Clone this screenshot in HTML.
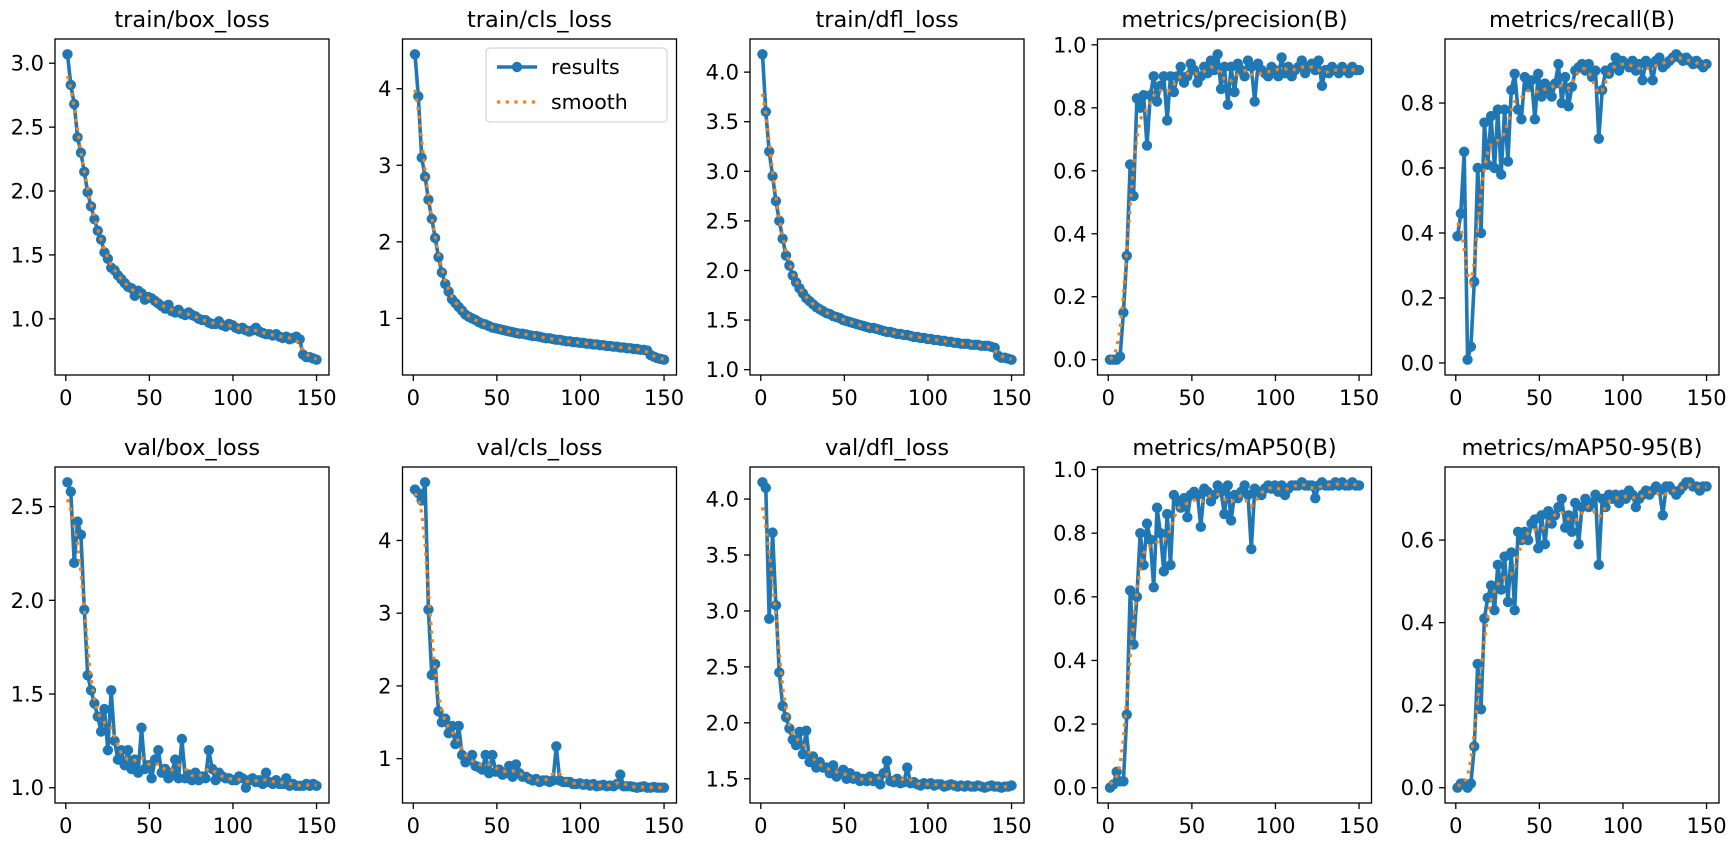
<!DOCTYPE html>
<html><head><meta charset="utf-8"><style>
html,body{margin:0;padding:0;background:#fff}
svg{display:block;font-family:"DejaVu Sans","Liberation Sans",sans-serif}
</style></head><body>
<svg id="fig" width="1735" height="850" viewBox="0 0 1735 850"></svg>
<script>
const titles=["train/box_loss","train/cls_loss","train/dfl_loss","metrics/precision(B)","metrics/recall(B)","val/box_loss","val/cls_loss","val/dfl_loss","metrics/mAP50(B)","metrics/mAP50-95(B)"];
const xTicks=[0,50,100,150];
const trainBox=[3.07,2.83,2.68,2.42,2.30,2.15,1.99,1.88,1.78,1.69,1.62,1.52,1.47,1.40,1.38,1.34,1.31,1.28,1.25,1.24,1.18,1.22,1.20,1.15,1.17,1.16,1.14,1.12,1.10,1.08,1.11,1.06,1.05,1.07,1.04,1.03,1.05,1.03,1.02,1.00,0.99,0.99,0.97,0.96,0.96,0.98,0.95,0.94,0.96,0.95,0.93,0.92,0.93,0.91,0.90,0.91,0.93,0.90,0.89,0.88,0.88,0.87,0.88,0.86,0.85,0.86,0.84,0.85,0.86,0.84,0.72,0.70,0.70,0.69,0.68];
const trainCls=[4.45,3.9,3.1,2.85,2.55,2.3,2.05,1.8,1.6,1.45,1.35,1.25,1.2,1.15,1.1,1.05,1.02,1.0,0.98,0.95,0.93,0.92,0.9,0.88,0.87,0.86,0.85,0.84,0.83,0.82,0.81,0.8,0.8,0.79,0.78,0.77,0.77,0.76,0.75,0.74,0.74,0.73,0.72,0.72,0.71,0.7,0.7,0.69,0.69,0.68,0.68,0.67,0.67,0.66,0.66,0.65,0.65,0.64,0.64,0.63,0.63,0.62,0.62,0.61,0.61,0.6,0.6,0.59,0.59,0.58,0.52,0.5,0.48,0.47,0.46];
const trainDfl=[4.18,3.6,3.2,2.95,2.7,2.5,2.32,2.15,2.05,1.95,1.88,1.82,1.77,1.72,1.69,1.66,1.63,1.61,1.59,1.57,1.56,1.54,1.53,1.52,1.5,1.49,1.48,1.47,1.46,1.45,1.44,1.43,1.42,1.42,1.41,1.4,1.39,1.38,1.38,1.37,1.36,1.36,1.35,1.35,1.34,1.33,1.33,1.32,1.32,1.31,1.31,1.3,1.3,1.29,1.29,1.28,1.28,1.27,1.27,1.26,1.26,1.26,1.25,1.25,1.25,1.24,1.24,1.24,1.23,1.22,1.14,1.12,1.12,1.11,1.1];
const precision=[0,0,0,0.01,0.15,0.33,0.62,0.52,0.83,0.8,0.84,0.68,0.84,0.9,0.82,0.87,0.9,0.76,0.9,0.85,0.9,0.93,0.88,0.9,0.94,0.92,0.88,0.9,0.93,0.91,0.95,0.92,0.97,0.86,0.93,0.81,0.93,0.85,0.94,0.92,0.9,0.95,0.93,0.82,0.94,0.92,0.91,0.9,0.93,0.92,0.9,0.96,0.91,0.93,0.9,0.92,0.93,0.95,0.91,0.93,0.94,0.92,0.95,0.87,0.92,0.91,0.93,0.92,0.91,0.93,0.92,0.91,0.93,0.92,0.92];
const recall=[0.39,0.46,0.65,0.01,0.05,0.25,0.6,0.4,0.74,0.61,0.76,0.6,0.78,0.58,0.78,0.62,0.84,0.89,0.78,0.75,0.88,0.85,0.87,0.75,0.89,0.82,0.86,0.84,0.82,0.86,0.92,0.8,0.88,0.79,0.85,0.9,0.91,0.92,0.9,0.92,0.88,0.9,0.69,0.84,0.9,0.89,0.91,0.94,0.9,0.93,0.92,0.91,0.93,0.9,0.92,0.87,0.93,0.92,0.87,0.93,0.94,0.91,0.92,0.93,0.94,0.95,0.94,0.93,0.94,0.93,0.92,0.93,0.92,0.91,0.92];
const valBox=[2.63,2.58,2.2,2.42,2.35,1.95,1.6,1.52,1.45,1.38,1.3,1.42,1.2,1.52,1.25,1.15,1.2,1.12,1.2,1.1,1.15,1.08,1.32,1.1,1.12,1.05,1.15,1.2,1.08,1.1,1.05,1.08,1.15,1.05,1.26,1.05,1.07,1.04,1.08,1.04,1.06,1.05,1.2,1.1,1.04,1.08,1.06,1.05,1.05,1.04,1.04,1.06,1.05,1.0,1.04,1.05,1.03,1.04,1.02,1.08,1.03,1.02,1.04,1.02,1.02,1.05,1.01,1.02,1.01,1.01,1.01,1.02,1.01,1.02,1.01];
const valCls=[4.7,4.65,4.55,4.8,3.05,2.15,2.3,1.65,1.5,1.55,1.35,1.45,1.2,1.45,1.05,0.95,0.98,1.05,0.9,0.88,0.85,1.05,0.8,1.05,0.82,0.85,0.78,0.8,0.9,0.75,0.92,0.8,0.75,0.75,0.72,0.7,0.72,0.68,0.7,0.7,0.68,0.7,1.17,0.7,0.68,0.68,0.68,0.65,0.65,0.66,0.64,0.65,0.63,0.65,0.62,0.63,0.64,0.62,0.63,0.62,0.65,0.78,0.62,0.62,0.62,0.61,0.6,0.61,0.62,0.6,0.6,0.61,0.6,0.6,0.6];
const valDfl=[4.15,4.1,2.93,3.7,3.05,2.45,2.15,2.05,1.95,1.85,1.8,1.92,1.72,1.93,1.65,1.7,1.6,1.65,1.6,1.6,1.55,1.62,1.52,1.55,1.58,1.5,1.55,1.5,1.52,1.48,1.5,1.48,1.52,1.48,1.5,1.45,1.55,1.66,1.48,1.47,1.5,1.46,1.47,1.6,1.46,1.47,1.45,1.44,1.46,1.45,1.46,1.44,1.45,1.45,1.43,1.44,1.45,1.44,1.43,1.44,1.43,1.44,1.43,1.43,1.44,1.43,1.42,1.43,1.44,1.43,1.43,1.42,1.43,1.43,1.44];
const map50=[0,0.01,0.05,0.02,0.02,0.23,0.62,0.45,0.6,0.8,0.7,0.83,0.78,0.63,0.88,0.8,0.68,0.86,0.7,0.92,0.9,0.88,0.91,0.85,0.92,0.93,0.92,0.82,0.94,0.93,0.9,0.92,0.95,0.93,0.86,0.95,0.84,0.92,0.91,0.93,0.95,0.92,0.75,0.94,0.93,0.92,0.94,0.95,0.94,0.95,0.93,0.95,0.92,0.94,0.95,0.95,0.95,0.96,0.95,0.95,0.95,0.91,0.95,0.96,0.95,0.95,0.95,0.96,0.95,0.96,0.95,0.95,0.96,0.95,0.95];
const map5095=[0,0.01,0.01,0.0,0.01,0.1,0.3,0.19,0.41,0.46,0.49,0.43,0.54,0.48,0.56,0.45,0.57,0.43,0.62,0.6,0.62,0.6,0.64,0.65,0.58,0.66,0.59,0.67,0.64,0.66,0.68,0.7,0.63,0.66,0.62,0.69,0.59,0.68,0.7,0.68,0.69,0.71,0.54,0.7,0.68,0.71,0.7,0.71,0.69,0.71,0.7,0.72,0.71,0.68,0.7,0.71,0.72,0.71,0.72,0.73,0.72,0.66,0.73,0.73,0.72,0.71,0.72,0.73,0.74,0.74,0.73,0.73,0.72,0.73,0.73];
const yTicks=[[1.0,1.5,2.0,2.5,3.0],[1,2,3,4],[1.0,1.5,2.0,2.5,3.0,3.5,4.0],[0,0.2,0.4,0.6,0.8,1.0],[0,0.2,0.4,0.6,0.8],[1.0,1.5,2.0,2.5],[1,2,3,4],[1.5,2.0,2.5,3.0,3.5,4.0],[0,0.2,0.4,0.6,0.8,1.0],[0,0.2,0.4,0.6]];
const yDecimals=[1,0,1,1,1,1,0,1,1,1];
const series=[trainBox,trainCls,trainDfl,precision,recall,valBox,valCls,valDfl,map50,map5095];
const names=["train-box-loss","train-cls-loss","train-dfl-loss","precision","recall","val-box-loss","val-cls-loss","val-dfl-loss","map50","map50-95"];

const NS="http://www.w3.org/2000/svg";
const svg=document.getElementById('fig');
function mk(tag,attrs,parent){const e=document.createElementNS(NS,tag);for(const k in attrs)e.setAttribute(k,attrs[k]);(parent||svg).appendChild(e);return e;}
function smooth(y,sigma){const r=Math.ceil(4*sigma),n=y.length,out=[];
  for(let i=0;i<n;i++){let s=0,w=0;for(let k=-r;k<=r;k++){let j=i+k;if(j<0)j=-j-1;if(j>=n)j=2*n-j-1;j=Math.max(0,Math.min(n-1,j));const g=Math.exp(-k*k/(2*sigma*sigma));s+=g*y[j];w+=g;}out.push(s/w);}return out;}
const AW=274,AH=336,blue="#1f77b4",orange="#ff7f0e";
series.forEach((y,p)=>{
  const col=p%5,row=Math.floor(p/5);
  const L=55+col*347.5,T=row?467:39;
  const n=y.length;
  const xs=y.map((_,i)=>1+i*149/(n-1));
  const sm=smooth(y,1.5);
  const all=y.concat(sm);let mn=Math.min(...all),mx=Math.max(...all);const pad=(mx-mn)*0.05;mn-=pad;mx+=pad;
  const x0=1-149*0.05,x1=150+149*0.05;
  const X=v=>L+(v-x0)/(x1-x0)*AW, Y=v=>T+AH-(v-mn)/(mx-mn)*AH;
  const g=mk('g',{});
  
  
  const t=mk('text',{x:L+AW/2,y:T-12,'text-anchor':'middle','font-size':'22.5',fill:'#000'},g);t.textContent=titles[p];
  
  xTicks.forEach(v=>{const x=X(v);mk('line',{x1:x,x2:x,y1:T+AH,y2:T+AH+6,stroke:'#000','stroke-width':1.3},g);
    const tx=mk('text',{x:x,y:T+AH+30,'text-anchor':'middle','font-size':'21',fill:'#000'},g);tx.textContent=v;
    });
  yTicks[p].forEach(v=>{if(v<mn||v>mx)return;const yy=Y(v);mk('line',{x1:L-6,x2:L,y1:yy,y2:yy,stroke:'#000','stroke-width':1.3},g);
    const tx=mk('text',{x:L-11,y:yy+7.5,'text-anchor':'end','font-size':'21',fill:'#000'},g);tx.textContent=v.toFixed(yDecimals[p]);
    });
  const clipId='c'+p;const cp=mk('clipPath',{id:clipId},g);mk('rect',{x:L,y:T,width:AW,height:AH},cp);
  const pg=mk('g',{'clip-path':'url(#'+clipId+')'},g);
  const pts=xs.map((x,i)=>X(x).toFixed(1)+','+Y(y[i]).toFixed(1)).join(' ');
  const line=mk('polyline',{points:pts,fill:'none',stroke:blue,'stroke-width':3.6,'stroke-linejoin':'round'},pg);
  
  xs.forEach((x,i)=>{const c=mk('circle',{cx:X(x),cy:Y(y[i]),r:5.2,fill:blue},pg);
    });
  const sp=xs.map((x,i)=>X(x).toFixed(1)+','+Y(sm[i]).toFixed(1)).join(' ');
  const sl=mk('polyline',{points:sp,fill:'none',stroke:orange,'stroke-width':3.2,'stroke-dasharray':'3.2 5.5'},pg);
  
  const fr=mk('rect',{x:L,y:T,width:AW,height:AH,fill:'none',stroke:'#000','stroke-width':1.3},g);
  
  if(p===1){
    const lg=mk('g',{},g);
    
    mk('rect',{x:486,y:48,width:181,height:74,rx:4,fill:'#fff','fill-opacity':0.85,stroke:'#ccc','stroke-width':1},lg);
    mk('line',{x1:497,x2:537,y1:67,y2:67,stroke:blue,'stroke-width':3.6},lg);
    mk('circle',{cx:517,cy:67,r:5.2,fill:blue},lg);
    mk('line',{x1:497,x2:537,y1:102,y2:102,stroke:orange,'stroke-width':3.2,'stroke-dasharray':'3.2 5.5'},lg);
    const a=mk('text',{x:551,y:74,'font-size':'20.5',fill:'#000'},lg);a.textContent='results';
    
    const b=mk('text',{x:551,y:109,'font-size':'20.5',fill:'#000'},lg);b.textContent='smooth';
    
  }
});
</script>
</body></html>
